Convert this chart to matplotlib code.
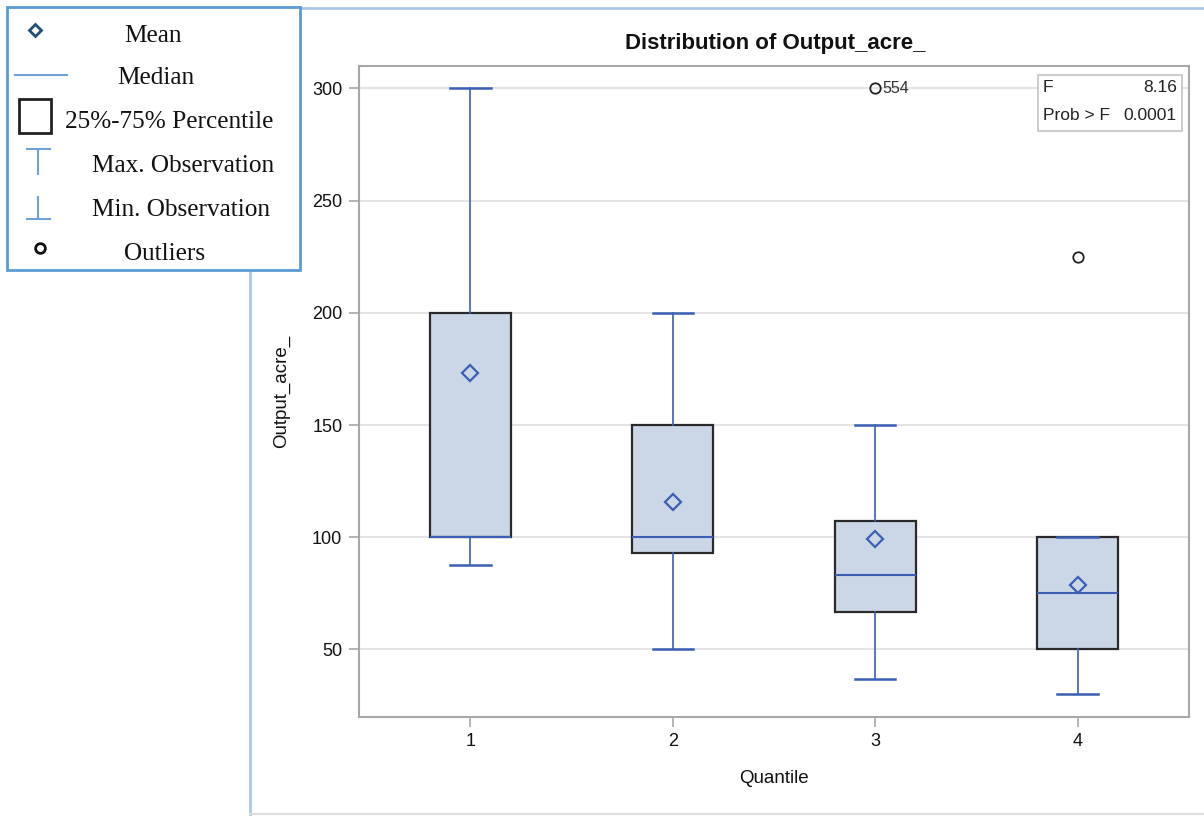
import matplotlib
matplotlib.use("Agg")
import matplotlib.pyplot as plt
from matplotlib.lines import Line2D
from matplotlib.patches import Rectangle

# ── data ─────────────────────────────────────────────────────────────────────
quantiles = ["1", "2", "3", "4"]
q_min     = [87.5, 50, 37.0, 30]
q_25      = [100, 93, 66.5, 50]
q_median  = [100, 100, 83, 75]
q_75      = [200, 150, 107, 100]
q_max     = [300, 200, 150, 100]
q_mean    = [173, 115.5, 99, 78.5]
outliers  = [[], [], [300], [225]]
outlier_ids = [[], [], ["554"], [""]]

y_ticks = [50, 100, 150, 200, 250, 300]
f_value = "8.16"
prob_f  = "0.0001"

W, H = 1204, 816
SANS  = ["Liberation Sans", "DejaVu Sans"]
SERIF = ["Liberation Serif", "DejaVu Serif"]
BLUE  = "#3a5fb5"
FILL  = "#cbd6e6"
GRID  = "#e4e4e4"
FRAME = "#a8a8a8"


def px(x, y):
    """pixel coords (top-left origin) -> figure fraction"""
    return x / W, 1 - y / H


fig = plt.figure(figsize=(W / 100, H / 100), dpi=100)
fig.patch.set_facecolor("white")

ax = fig.add_axes([359 / W, 1 - 716.7 / H, (1189 - 359) / W, (716.7 - 66) / H])

stats = []
for i in range(len(quantiles)):
    stats.append(dict(
        label=quantiles[i], whislo=q_min[i], q1=q_25[i], med=q_median[i],
        q3=q_75[i], whishi=q_max[i], mean=q_mean[i], fliers=outliers[i],
    ))

positions = list(range(1, len(quantiles) + 1))
ax.bxp(
    stats, positions=positions, widths=0.4, capwidths=0.2,
    showmeans=True, patch_artist=True, showfliers=True,
    boxprops=dict(facecolor=FILL, edgecolor="#2a2a2a", linewidth=1.6),
    whiskerprops=dict(color=BLUE, linewidth=1.2),
    capprops=dict(color=BLUE, linewidth=1.8),
    medianprops=dict(color=BLUE, linewidth=1.5),
    meanprops=dict(marker="D", markerfacecolor="none", markeredgecolor=BLUE,
                   markeredgewidth=1.6, markersize=8.5),
    flierprops=dict(marker="o", markerfacecolor="none", markeredgecolor="#222222",
                    markeredgewidth=1.3, markersize=7.5),
    zorder=3,
)

for pos, vals, ids in zip(positions, outliers, outlier_ids):
    for v, lab in zip(vals, ids):
        if lab:
            ax.annotate(lab, (pos, v), xytext=(5, 0), textcoords="offset points",
                        va="center", ha="left", fontsize=11.5, color="#333333",
                        family=SANS)

ax.set_xlim(0.45, 4.55)
ax.set_ylim(20, 310)
ax.set_xticks(positions)
ax.set_xticklabels(quantiles)
ax.set_yticks(y_ticks)
ax.yaxis.grid(True, color=GRID, linewidth=1.5, zorder=0)
ax.set_axisbelow(True)
for sp in ax.spines.values():
    sp.set_color(FRAME)
    sp.set_linewidth(1.5)
ax.tick_params(axis="both", direction="out", length=7, width=1.2, color=FRAME,
               labelsize=13, labelcolor="#111111", pad=5)
for lab in ax.get_xticklabels() + ax.get_yticklabels():
    lab.set_family(SANS)

ax.set_xlabel("Quantile", fontsize=13.5, color="#111111", family=SANS, labelpad=14)
ax.set_ylabel("Output_acre_", fontsize=13.5, color="#111111", family=SANS, labelpad=16)
fig.text(*px(775, 43), "Distribution of Output_acre_", ha="center", va="center",
         fontsize=16, fontweight="bold", color="#111111", family=SANS)

# F statistic box
bx0, by0 = px(1038, 131)
bx1, by1 = px(1182, 75)
fig.add_artist(Rectangle((bx0, by0), bx1 - bx0, by1 - by0, transform=fig.transFigure,
                         facecolor="white", edgecolor="#c8c8c8", linewidth=1.3, zorder=5))
fig.text(*px(1043, 88), "F", ha="left", va="center", fontsize=12.5, family=SANS,
         color="#222222", zorder=6)
fig.text(*px(1177, 88), f_value, ha="right", va="center", fontsize=12.5, family=SANS,
         color="#222222", zorder=6)
fig.text(*px(1043, 116), "Prob > F", ha="left", va="center", fontsize=12.5, family=SANS,
         color="#222222", zorder=6)
fig.text(*px(1177, 116), prob_f, ha="right", va="center", fontsize=12.5, family=SANS,
         color="#222222", zorder=6)

# outer frame of the pasted chart
def fig_line(xs, ys, **kw):
    fx = [x / W for x in xs]
    fy = [1 - y / H for y in ys]
    fig.add_artist(Line2D(fx, fy, transform=fig.transFigure, **kw))

fig_line([300, 1204], [8, 8], color="#a9c8e8", linewidth=2)
fig_line([250, 250], [270, 816], color="#a9c8e8", linewidth=2)
fig_line([250, 1204], [814, 814], color="#dddddd", linewidth=1.5)

# hand-made legend box (top left)
lx0, ly0 = px(7, 270)
lx1, ly1 = px(300, 7)
fig.add_artist(Rectangle((lx0, ly0), lx1 - lx0, ly1 - ly0, transform=fig.transFigure,
                         facecolor="white", edgecolor="#5b9bd5", linewidth=2, zorder=5))

LEG_BLUE = "#6fa3d8"
fig_line([35], [30], marker="D", markersize=6.5, markerfacecolor="none",
         markeredgecolor="#1f4e79", markeredgewidth=2, linestyle="none", zorder=6)
fig_line([15, 67], [75, 75], color=LEG_BLUE, linewidth=1.5, zorder=6)
sx0, sy0 = px(19, 133)
sx1, sy1 = px(51, 99)
fig.add_artist(Rectangle((sx0, sy0), sx1 - sx0, sy1 - sy0, transform=fig.transFigure,
                         facecolor="white", edgecolor="#222222", linewidth=2, zorder=6))
fig_line([27, 50], [149, 149], color=LEG_BLUE, linewidth=1.5, zorder=6)
fig_line([37.5, 37.5], [149, 174], color=LEG_BLUE, linewidth=1.5, zorder=6)
fig_line([37.5, 37.5], [197, 219], color=LEG_BLUE, linewidth=1.5, zorder=6)
fig_line([27, 50], [219, 219], color=LEG_BLUE, linewidth=1.5, zorder=6)
fig_line([40], [248], marker="o", markersize=7, markerfacecolor="none",
         markeredgecolor="#111111", markeredgewidth=2, linestyle="none", zorder=6)

legend_items = [
    ("Mean", 124, 36),
    ("Median", 117, 78),
    ("25%-75% Percentile", 65, 122),
    ("Max. Observation", 92, 166),
    ("Min. Observation", 92, 210),
    ("Outliers", 124, 254),
]
for txt, x, y in legend_items:
    fig.text(*px(x, y), txt, ha="left", va="center", fontsize=18.2, family=SERIF,
             color="#111111", zorder=6)

fig.savefig("out.png", dpi=100)
